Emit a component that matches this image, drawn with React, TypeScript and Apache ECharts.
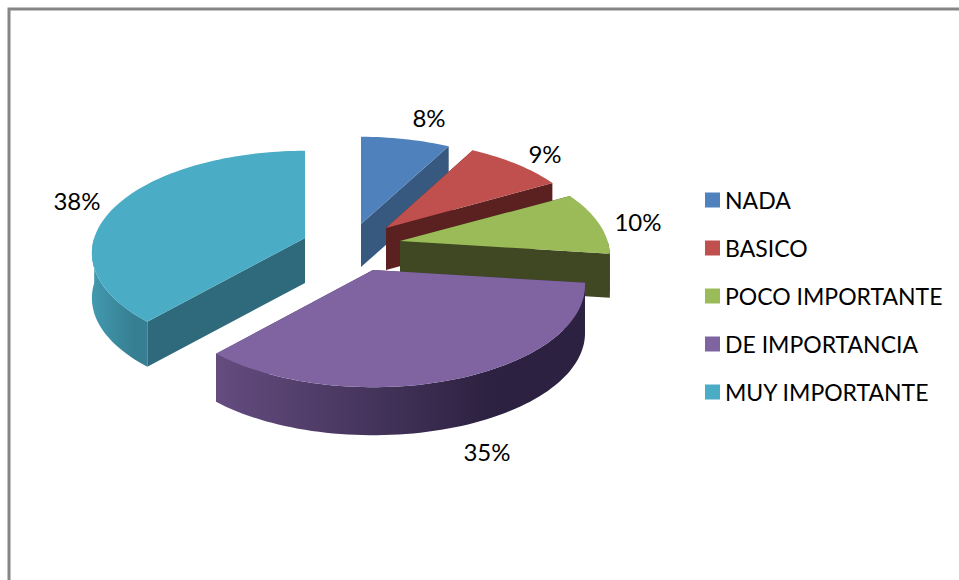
import React, { useEffect, useRef } from "react";
import * as echarts from "echarts";

const categories = ["NADA", "BASICO", "POCO IMPORTANTE", "DE IMPORTANCIA", "MUY IMPORTANTE"];
const shares = [8, 9, 10, 34.6, 38.4];
const topColors = ["#4F81BD", "#C0504D", "#9BBB59", "#8064A2", "#4BACC6"];
const cutWallColors = ["#38597F", "#5B2120", "#3F4723", "#4A3A60", "#2E6A7B"];
const outerWallStops = [
  ["#38597F", "#38597F"],
  ["#5B2120", "#5B2120"],
  ["#3F4723", "#3F4723"],
  ["#644C7F", "#2C2140"],
  ["#4299AF", "#367F92"],
];

// Layout of the exploded slices: apex on screen, horizontal scale, wall height, stacking, label place.
const apexX = [361, 386, 400, 373, 305];
const apexY = [224, 228, 241, 270, 238];
const xScale = [0.96, 0.95, 0.97, 0.98, 0.985];
const depth = [43, 42, 44, 48, 45];
const stacking = [2, 3, 4, 5, 1];
const labelX = [429, 545, 638, 487, 77];
const labelY = [117, 153, 221, 451, 200];

const RX = 214;
const RY = 100;
const PERSPECTIVE = 0.147;
const LABEL_FONT = "24px Lato";
const LEGEND_FONT = "Lato";

const total = shares.reduce((a, b) => a + b, 0);

function project(theta: number, i: number) {
  const s = 1 / (1 + PERSPECTIVE * Math.cos(theta));
  return [apexX[i] + RX * xScale[i] * s * Math.sin(theta), apexY[i] - RY * s * Math.cos(theta)];
}

function arc(from: number, to: number, i: number) {
  const pts: number[][] = [];
  const n = Math.max(2, Math.ceil(Math.abs(to - from) / 0.03));
  for (let k = 0; k <= n; k++) pts.push(project(from + ((to - from) * k) / n, i));
  return pts;
}

function sliceRenderer(i: number) {
  return (_params: any, api: any) => {
    const value = api.value(0);
    const before = shares.slice(0, i).reduce((a, b) => a + b, 0);
    const start = (before / total) * Math.PI * 2;
    const end = start + (value / total) * Math.PI * 2;
    const d = depth[i];
    const apex = [apexX[i], apexY[i]];
    const lift = (p: number[]) => [p[0], p[1] + d];
    const children: any[] = [];

    const cut = (theta: number) => {
      const p = project(theta, i);
      children.push({
        type: "polygon",
        shape: { points: [apex, p, lift(p), lift(apex)] },
        style: { fill: cutWallColors[i] },
      });
    };
    cut(start);
    cut(end);

    const from = Math.max(start, Math.PI / 2);
    const to = Math.min(end, (Math.PI * 3) / 2);
    if (to > from) {
      const edge = arc(from, to, i);
      children.push({
        type: "polygon",
        shape: { points: [...edge, ...edge.slice().reverse().map(lift)] },
        style: {
          fill: new echarts.graphic.LinearGradient(0, 0, 1, 0, [
            { offset: 0, color: outerWallStops[i][0] },
            { offset: 0.75, color: outerWallStops[i][1] },
            { offset: 1, color: outerWallStops[i][1] },
          ]),
        },
      });
    }

    children.push({
      type: "polygon",
      shape: { points: [apex, ...arc(start, end, i)] },
      style: { fill: topColors[i] },
    });
    children.push({
      type: "text",
      style: {
        text: Math.round((value / total) * 100) + "%",
        x: labelX[i],
        y: labelY[i],
        align: "center",
        verticalAlign: "middle",
        fill: "#000000",
        font: LABEL_FONT,
      },
    });
    return { type: "group", children };
  };
}

export default function App() {
  const ref = useRef<HTMLDivElement>(null);
  useEffect(() => {
    const chart = echarts.init(ref.current!, null, { renderer: "svg" });
    chart.setOption({
      animation: false,
      backgroundColor: "#FFFFFF",
      color: topColors,
      legend: {
        data: categories,
        orient: "vertical",
        left: 705,
        top: 185,
        padding: 0,
        icon: "rect",
        itemWidth: 15,
        itemHeight: 15,
        itemGap: 18,
        selectedMode: false,
        textStyle: {
          fontFamily: LEGEND_FONT,
          fontSize: 23,
          color: "#000000",
          lineHeight: 30,
        },
      },
      graphic: [
        {
          type: "polyline",
          silent: true,
          shape: { points: [[9, 580], [9, 9], [959, 9]] },
          style: { stroke: "#868686", lineWidth: 3, fill: "none" },
        },
      ],
      series: categories.map((name, i) => ({
        type: "custom",
        name,
        coordinateSystem: "none",
        z: stacking[i],
        silent: true,
        clip: false,
        itemStyle: { color: topColors[i] },
        renderItem: sliceRenderer(i),
        data: [[shares[i]]],
      })),
    });
    return () => chart.dispose();
  }, []);
  return <div ref={ref} style={{ position: "absolute", left: 0, top: 0, width: 959, height: 580 }} />;
}
